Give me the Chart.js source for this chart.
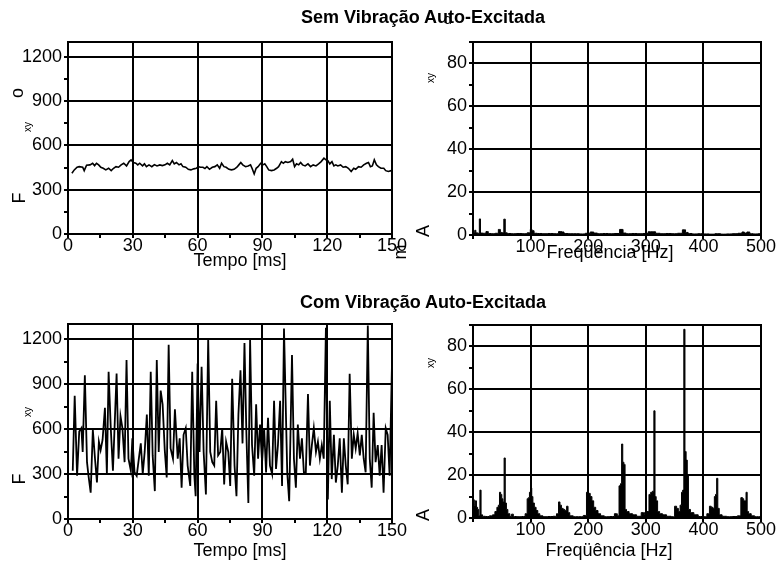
<!DOCTYPE html>
<html>
<head>
<meta charset="utf-8">
<script src="https://cdn.jsdelivr.net/npm/chart.js@4.4.0/dist/chart.umd.min.js"></script>
<style>
  body { margin: 0; background: #fff; overflow: hidden; width: 776px; height: 564px; position: relative;
         font-family: "Liberation Sans", Arial, sans-serif; color: #000; }
  canvas { position: absolute; }
  .txt { position: absolute; white-space: nowrap; line-height: 18px; font-size: 18px; }
  .tit { font-weight: bold; transform: translateX(-50%); }
  .xt { transform: translateX(-50%); }
  .rot { transform: translate(-50%, -50%) rotate(-90deg); }
</style>
</head>
<body>
<canvas id="c1" width="420" height="260" style="left:0;top:20px"></canvas>
<canvas id="c2" width="400" height="260" style="left:400px;top:20px"></canvas>
<canvas id="c3" width="420" height="264" style="left:0;top:300px"></canvas>
<canvas id="c4" width="400" height="264" style="left:400px;top:300px"></canvas>

<div class="txt tit" style="left:423px;top:8px">Sem Vibração Auto-Excitada</div>
<div class="txt" style="left:444px;top:10px;font-size:14px">d</div>
<div class="txt tit" style="left:423px;top:293px">Com Vibração Auto-Excitada</div>

<div class="txt xt" style="left:240px;top:251px">Tempo [ms]</div>
<div class="txt xt" style="left:610px;top:243px">Freqüência [Hz]</div>
<div class="txt xt" style="left:240px;top:541px">Tempo [ms]</div>
<div class="txt xt" style="left:609px;top:541px">Freqüência [Hz]</div>

<div class="txt rot" style="left:19px;top:198px">F</div>
<div class="txt rot" style="left:28px;top:127px;font-size:10px;line-height:10px">xy</div>
<div class="txt rot" style="left:17px;top:93px">o</div>
<div class="txt rot" style="left:19px;top:479px">F</div>
<div class="txt rot" style="left:28px;top:412px;font-size:10px;line-height:10px">xy</div>

<div class="txt rot" style="left:423px;top:231px">A</div>
<div class="txt rot" style="left:431px;top:78px;font-size:10px;line-height:10px">xy</div>
<div class="txt rot" style="left:400px;top:252px">m</div>
<div class="txt rot" style="left:423px;top:515px">A</div>
<div class="txt rot" style="left:431px;top:363px;font-size:10px;line-height:10px">xy</div>

<script>
// ---- dados ----
const rotulosTempo = [0, 30, 60, 90, 120, 150];
const rotulosForca = [0, 300, 600, 900, 1200];
const rotulosFreq = [100, 200, 300, 400, 500];
const rotulosAmp = [0, 20, 40, 60, 80];

// sem vibração auto-excitada: força no tempo
const tempoSem = [1.8, 2.9, 4.2, 5.2, 6.8, 7.5, 8.6, 10.2, 11.4, 12.3, 13.2, 14.2, 15.2, 16.3, 17.5, 18.8, 20.0, 21.1, 22.2, 23.4,
  24.6, 25.8, 27.1, 28.3, 29.2, 30.2, 31.4, 32.3, 33.2, 34.5, 35.4, 36.3, 37.5, 38.8, 40.0, 41.2, 42.5, 43.7, 44.9, 46.0,
  47.1, 48.3, 49.2, 50.2, 51.4, 52.3, 53.2, 54.5, 55.7, 56.9, 58.2, 59.4, 60.3, 61.4, 62.5, 63.4, 64.3, 65.5, 66.8, 68.0,
  69.1, 70.2, 71.1, 72.2, 73.2, 74.5, 75.7, 76.9, 78.2, 79.1, 80.0, 80.9, 82.2, 83.4, 84.5, 85.2, 86.2, 87.1, 88.0, 89.2,
  90.2, 91.1, 92.0, 92.9, 94.2, 95.4, 96.6, 97.5, 98.8, 99.7, 100.6, 101.8, 103.1, 104.0, 104.9, 105.8, 106.8, 107.7, 108.6, 109.8,
  111.1, 112.3, 113.5, 114.8, 116.0, 117.2, 118.5, 119.4, 120.3, 121.2, 122.2, 123.1, 124.0, 124.9, 126.2, 127.4, 128.6, 129.8, 131.1, 132.3,
  133.2, 134.5, 135.7, 136.9, 138.2, 139.1, 140.0, 140.9, 141.8, 142.8, 143.7, 144.9, 146.2, 147.1, 148.3, 149.5, 150];
const forcaSem = [411, 434, 452, 456, 452, 429, 466, 468, 479, 463, 479, 468, 452, 445, 434, 445, 429, 445, 456, 452,
  468, 479, 461, 490, 502, 484, 479, 468, 479, 461, 475, 456, 468, 456, 470, 461, 468, 463, 468, 479,
  468, 497, 475, 484, 468, 475, 456, 452, 438, 434, 441, 445, 456, 452, 452, 443, 456, 438, 452, 456,
  468, 445, 479, 456, 452, 438, 434, 438, 452, 468, 484, 468, 456, 461, 468, 445, 407, 445, 456, 479,
  468, 475, 456, 434, 429, 434, 445, 456, 490, 479, 490, 484, 490, 506, 456, 475, 468, 484, 468, 461,
  475, 456, 468, 461, 475, 490, 513, 502, 497, 475, 490, 461, 468, 461, 468, 452, 456, 445, 423, 445,
  438, 456, 452, 468, 479, 484, 456, 461, 502, 468, 456, 445, 445, 429, 423, 429, 423];

// com vibração auto-excitada: força no tempo
const tempoCom = [2.2, 3.1, 4.2, 5.2, 6.2, 6.8, 7.8, 8.8, 9.5, 10.5, 11.5, 12.5, 13.4, 14.3, 15.1, 16.0, 17.1, 18.0, 18.8, 19.8,
  20.8, 22.5, 23.4, 24.3, 25.2, 26.2, 27.1, 28.0, 29.1, 29.8, 30.8, 31.8, 32.8, 33.7, 34.6, 35.5, 36.5, 37.4, 38.3, 39.2,
  40.2, 41.1, 42.0, 42.9, 43.8, 44.8, 45.7, 46.6, 47.5, 48.6, 49.5, 50.8, 51.7, 52.6, 53.5, 54.5, 55.4, 56.6, 57.5, 58.5,
  59.1, 60.0, 60.9, 61.85, 62.8, 63.85, 64.9, 65.85, 66.8, 67.7, 68.6, 69.5, 70.5, 71.4, 72.3, 73.2, 74.2, 75.1, 76.0, 77.1,
  78.0, 78.9, 79.85, 80.8, 81.7, 82.6, 83.5, 84.3, 85.2, 86.2, 87.1, 88.0, 88.9, 89.85, 90.8, 91.7, 92.6, 93.5, 94.5, 95.4,
  96.3, 97.2, 98.2, 99.1, 100.0, 101.5, 102.4, 103.7, 104.6, 105.5, 106.4, 107.4, 108.3, 109.2, 110.1, 111.1, 112.0, 112.9, 113.8, 114.8,
  115.7, 116.6, 117.5, 118.4, 119.4, 120.3, 121.2, 122.1, 123.1, 124.0, 124.9, 125.8, 126.8, 127.7, 128.6, 129.5, 130.4, 131.4, 132.3, 133.2,
  134.1, 135.1, 136.0, 136.9, 137.8, 138.8, 139.7, 140.6, 141.5, 142.4, 143.4, 144.3, 145.2, 146.1, 147.1, 148.0, 148.9, 150];
const forcaCom = [322, 822, 288, 583, 606, 447, 958, 379, 288, 175, 595, 402, 243, 515, 459, 527, 742, 300, 981, 606,
  322, 970, 402, 686, 606, 379, 1060, 402, 322, 538, 311, 288, 402, 504, 300, 447, 697, 288, 981, 424,
  186, 1060, 447, 856, 765, 459, 277, 1162, 470, 402, 731, 402, 538, 209, 561, 606, 356, 220, 981, 288,
  152, 1037, 447, 1015, 447, 163, 1200, 447, 379, 356, 788, 424, 447, 606, 231, 515, 447, 220, 935, 356,
  152, 697, 992, 504, 1174, 561, 107, 1200, 493, 288, 765, 402, 629, 379, 606, 311, 674, 356, 300, 788,
  334, 493, 788, 220, 1270, 311, 118, 1094, 402, 209, 629, 402, 538, 311, 311, 833, 356, 493, 606, 447,
  515, 402, 493, 402, 1275, 130, 788, 266, 561, 243, 356, 538, 175, 538, 356, 231, 969, 402, 561, 470,
  572, 424, 561, 402, 311, 1290, 402, 209, 708, 379, 493, 288, 493, 175, 606, 561, 288, 1040];

// espectros de amplitude
const freqSem = [0, 2, 4, 6, 10, 12, 14, 20, 25, 28, 35, 42, 46, 49, 52, 55, 57, 62, 70, 80,
  90, 98, 101, 104, 108, 115, 125, 135, 145, 152, 156, 160, 170, 180, 190, 200, 207, 212, 220, 230,
  240, 250, 259, 262, 270, 280, 290, 300, 308, 314, 320, 330, 340, 350, 360, 367, 371, 376, 385, 395,
  405, 415, 425, 435, 445, 455, 465, 469, 473, 478, 483, 490, 500];
const ampSem = [1.5, 1.2, 2.2, 1.0, 0.8, 7.5, 0.9, 0.8, 1.6, 0.7, 0.6, 0.8, 2.6, 1.2, 1.0, 7.4, 1.0, 0.7, 0.6, 0.7,
  0.6, 1.0, 2.6, 2.0, 0.8, 0.7, 0.6, 0.7, 0.6, 1.6, 1.4, 0.7, 0.6, 0.6, 0.5, 0.8, 1.4, 0.9, 0.6, 0.7,
  0.6, 0.7, 2.6, 0.9, 0.6, 0.7, 0.6, 0.7, 1.5, 1.5, 0.8, 0.6, 0.7, 0.6, 0.8, 2.4, 1.2, 0.7, 0.5, 0.6,
  0.5, 0.4, 0.6, 0.4, 0.5, 0.6, 0.8, 1.4, 0.9, 1.4, 0.6, 0.5, 0.6];

const freqCom = [0, 1.5, 3, 5, 7, 9, 11, 13, 15, 18, 25, 32, 36, 40, 43, 45, 47, 49, 51, 53,
  55, 57, 59, 62, 66, 68, 72, 80, 88, 93, 95, 97, 99, 101, 103, 105, 108, 111, 114, 118,
  125, 135, 143, 147, 150, 152, 155, 158, 161, 164, 166, 170, 178, 188, 195, 199, 202, 205, 208, 211,
  215, 219, 224, 232, 242, 249, 252, 255, 257, 259, 261, 263, 265, 268, 274, 280, 288, 296, 300, 304,
  307, 310, 313, 315, 317, 319, 322, 326, 332, 340, 348, 352, 355, 358, 361, 363, 365, 367, 369, 371,
  373, 375, 380, 387, 395, 403, 409, 412, 415, 418, 420, 422, 424, 426, 429, 436, 445, 455, 463, 467,
  469, 471, 473, 475, 477, 480, 486, 492, 500];
const ampCom = [9, 8.5, 6, 8, 5, 4, 1, 13, 1.5, 0.8, 0.7, 1.0, 1.5, 3, 5, 6, 12, 11, 9, 7.5,
  28, 7, 4, 2, 0.8, 1.8, 0.7, 0.6, 0.7, 2, 9, 9.5, 12, 14, 10, 7, 5, 3.5, 2, 1,
  0.6, 0.7, 0.8, 2, 7.5, 6, 4.5, 4, 3.5, 5.5, 2.5, 1, 0.6, 0.6, 1.2, 12, 11.5, 10, 8, 5,
  3.5, 2, 1, 0.6, 0.7, 2, 1, 15, 16, 34.5, 26, 25, 4, 3, 2, 1.5, 0.8, 2.5, 1.5, 3,
  11, 12, 12.5, 50, 10, 8, 3, 2, 1.5, 0.8, 0.6, 5.5, 4.5, 3, 6, 12, 13, 88, 31, 27,
  20, 4, 2.5, 1.5, 0.7, 0.6, 2, 5.5, 5, 4.5, 10, 11, 18.5, 4.5, 1.5, 0.8, 0.6, 0.7, 1, 9.5,
  9, 8, 8, 12, 3, 2, 1, 0.6, 0.6];

const FONTE = '"Liberation Sans", Arial, sans-serif';
const PRETO = '#000';

// moldura completa em volta da área do gráfico
const moldura = {
  id: 'moldura',
  afterDraw(chart) {
    const { ctx, chartArea: a } = chart;
    ctx.save();
    ctx.strokeStyle = PRETO;
    ctx.lineWidth = 2;
    ctx.strokeRect(a.left, a.top, a.right - a.left, a.bottom - a.top);
    ctx.restore();
  }
};

function eixo(min, max, passo, rotulos, tamanho, horizontal) {
  return {
    type: 'linear',
    min: min,
    max: max,
    afterFit: s => { if (horizontal) s.height = tamanho; else s.width = tamanho; },
    ticks: {
      stepSize: passo,
      includeBounds: false,
      autoSkip: false,
      maxRotation: 0,
      color: PRETO,
      padding: horizontal ? -3 : 2,
      font: { family: FONTE, size: 18 },
      callback: v => rotulos.includes(v) ? v : ''
    },
    grid: {
      color: c => (c.tick && rotulos.includes(c.tick.value)) ? PRETO : 'rgba(0,0,0,0)',
      tickColor: PRETO,
      lineWidth: 2,
      tickLength: 4
    },
    border: { color: PRETO, width: 2 }
  };
}

function pontos(xs, ys) {
  return xs.map((x, i) => ({ x: x, y: ys[i] }));
}

function criarGrafico(id, dataset, eixoX, eixoY, padding) {
  return new Chart(document.getElementById(id), {
    type: 'line',
    data: { datasets: [dataset] },
    options: {
      responsive: false,
      animation: false,
      devicePixelRatio: 1,
      layout: { padding: padding },
      plugins: { legend: { display: false }, tooltip: { enabled: false } },
      scales: { x: eixoX, y: eixoY }
    },
    plugins: [moldura]
  });
}

function linhaTempo(xs, ys, largura) {
  return {
    data: pontos(xs, ys),
    borderColor: PRETO,
    borderWidth: largura,
    pointRadius: 0,
    tension: 0,
    fill: false
  };
}

function espectro(xs, ys) {
  return {
    data: pontos(xs, ys),
    borderColor: PRETO,
    backgroundColor: PRETO,
    borderWidth: 1,
    pointRadius: 0,
    stepped: 'middle',
    fill: 'origin'
  };
}

criarGrafico('c1', linhaTempo(tempoSem, forcaSem, 1.6),
  eixo(0, 150, 15, rotulosTempo, 46, true),
  eixo(0, 1300, 150, rotulosForca, 68, false),
  { left: 0, right: 28, top: 22, bottom: 0 });

criarGrafico('c2', espectro(freqSem, ampSem),
  eixo(0, 500, 100, rotulosFreq, 45, true),
  eixo(0, 90, 10, rotulosAmp, 73, false),
  { left: 0, right: 39, top: 22, bottom: 0 });

criarGrafico('c3', linhaTempo(tempoCom, forcaCom, 1.8),
  eixo(0, 150, 15, rotulosTempo, 45, true),
  eixo(0, 1300, 150, rotulosForca, 68, false),
  { left: 0, right: 28, top: 24, bottom: 0 });

criarGrafico('c4', espectro(freqCom, ampCom),
  eixo(0, 500, 100, rotulosFreq, 46, true),
  eixo(0, 90, 10, rotulosAmp, 73, false),
  { left: 0, right: 39, top: 25, bottom: 0 });
</script>
</body>
</html>
